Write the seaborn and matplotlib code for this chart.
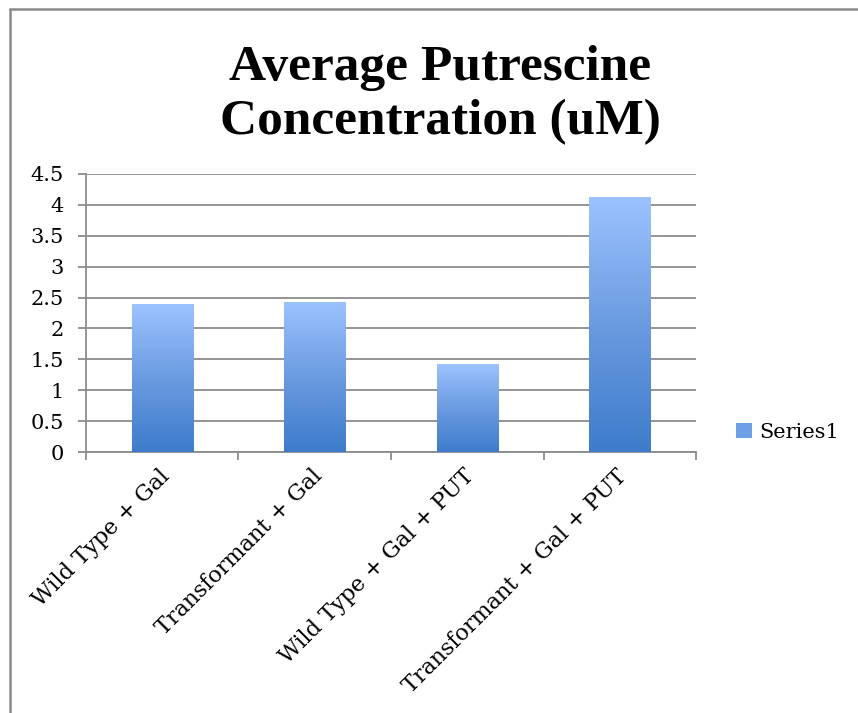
import numpy as np
import pandas as pd
import matplotlib
matplotlib.use("Agg")
import matplotlib.pyplot as plt
import matplotlib.transforms as mtransforms
import seaborn as sns
from matplotlib.colors import LinearSegmentedColormap
from matplotlib.patches import Patch
from matplotlib.lines import Line2D

# ---- data ----
categories = ["Wild Type + Gal", "Transformant + Gal",
              "Wild Type + Gal + PUT", "Transformant + Gal + PUT"]
values = [2.39, 2.43, 1.42, 4.13]
series_name = "Series1"
y_ticks = [0, 0.5, 1, 1.5, 2, 2.5, 3, 3.5, 4, 4.5]
y_tick_labels = ["0", "0.5", "1", "1.5", "2", "2.5", "3", "3.5", "4", "4.5"]
title_lines = ["Average Putrescine", "Concentration (uM)"]

sns.set_theme(style="white")
plt.rcParams["font.family"] = ["DejaVu Serif"]
plt.rcParams["text.color"] = "black"

fig = plt.figure(figsize=(8.58, 7.13), dpi=100)
ax = fig.add_axes([0.1002, 0.366, 0.7110, 0.390])

df = pd.DataFrame({"category": categories, "value": values})
sns.barplot(data=df, x="category", y="value", ax=ax, width=0.4,
            color="#6f9fe4", saturation=1, zorder=3)

grid_c = "#8c8c8c"
cmap = LinearSegmentedColormap.from_list(
    "excel_blue", ["#3d7ccb", "#6b9be0", "#9cc3ff"])
grad = np.linspace(0, 1, 256).reshape(-1, 1)
for p in list(ax.patches):
    x0, y0 = p.get_x(), p.get_y()
    w, h = p.get_width(), p.get_height()
    im = ax.imshow(grad, extent=[x0, x0 + w, y0, y0 + h], origin="lower",
                   cmap=cmap, aspect="auto", zorder=4)
    im.set_clip_path(p)
    p.set_facecolor("none")
    p.set_edgecolor("none")

ax.set_xlim(-0.5, len(categories) - 0.5)
ax.set_ylim(0, 4.5)
ax.set_yticks(y_ticks)
ax.set_yticklabels(y_tick_labels)
ax.set_xlabel("")
ax.set_ylabel("")

ax.set_axisbelow(True)
ax.yaxis.grid(True, color=grid_c, lw=1.3)
ax.xaxis.grid(False)
for s in ["top", "right"]:
    ax.spines[s].set_visible(False)
for s in ["left", "bottom"]:
    ax.spines[s].set_color(grid_c)
    ax.spines[s].set_linewidth(1.3)

ax.tick_params(axis="y", which="major", left=True, length=6, width=1.3,
               color=grid_c, labelsize=15, pad=10, labelcolor="black")
ax.set_xticks(np.arange(-0.5, len(categories)), minor=True)
ax.tick_params(axis="x", which="minor", bottom=True, length=6, width=1.3,
               color=grid_c, direction="out")
ax.tick_params(axis="x", which="major", bottom=False, length=0,
               labelsize=16, pad=15, labelcolor="black")
shift = mtransforms.ScaledTranslation(4 / 100, 0, fig.dpi_scale_trans)
for lab in ax.get_xticklabels():
    lab.set_rotation(45)
    lab.set_ha("right")
    lab.set_va("center")
    lab.set_rotation_mode("anchor")
    lab.set_transform(lab.get_transform() + shift)

title_kw = dict(ha="center", va="baseline", fontsize=37, fontweight="bold",
                family="Liberation Serif", color="black")
fig.text(0.513, 1 - 80 / 713, title_lines[0], **title_kw)
fig.text(0.513, 1 - 134 / 713, title_lines[1], **title_kw)

handle = Patch(facecolor="#6f9fe4", edgecolor="none")
fig.legend([handle], [series_name], loc="center left",
           bbox_to_anchor=(0.858, 0.394), frameon=False, fontsize=15,
           handlelength=0.75, handleheight=0.75, handletextpad=0.35,
           borderpad=0, borderaxespad=0, labelcolor="black")

# chart-area border (top and left edges visible)
fig.add_artist(Line2D([0.0117, 1.0], [0.9867, 0.9867],
                      transform=fig.transFigure, color="#8a8a8a", lw=1.8))
fig.add_artist(Line2D([0.0117, 0.0117], [0.0, 0.9867],
                      transform=fig.transFigure, color="#8a8a8a", lw=1.8))

fig.savefig("out.png", dpi=100, facecolor="white")
